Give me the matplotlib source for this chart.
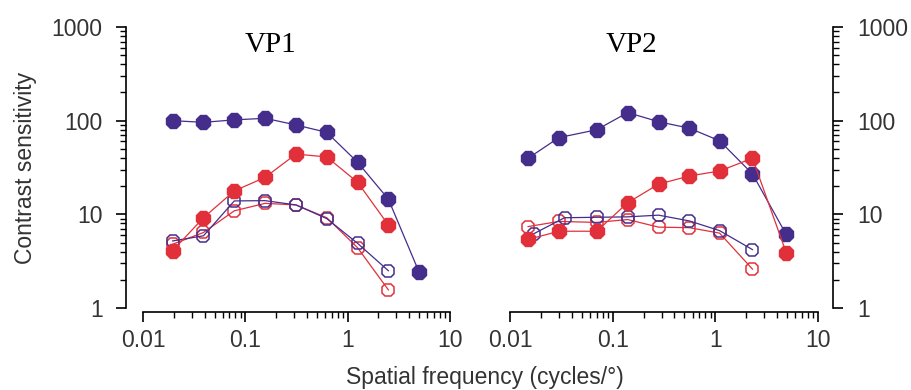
import matplotlib
matplotlib.use('Agg')
import matplotlib.pyplot as plt
from matplotlib.ticker import LogLocator, NullFormatter, FixedLocator, FixedFormatter

plt.rcParams['font.family'] = ['Liberation Sans', 'DejaVu Sans']

# VP1 data
f1 = [0.0195, 0.039, 0.078, 0.156, 0.3125, 0.625, 1.25, 2.5, 5.0]
vp1_blue_filled = [100, 96, 102, 106, 90, 75, 36, 14.5, 2.4]
vp1_red_filled = [4.1, 9.2, 17.8, 24.8, 44, 41, 22, 7.7]
vp1_blue_open = [5.2, 5.9, 13.9, 14, 12.6, 9.0, 4.9, 2.5]
vp1_red_open = [4.8, 6.4, 10.9, 13.1, 12.6, 9.2, 4.4, 1.56]

# VP2 data
f2 = [0.015, 0.03, 0.07, 0.14, 0.28, 0.56, 1.1, 2.3, 4.9]
f2_blue_open = [0.017, 0.034, 0.07, 0.14, 0.28, 0.56, 1.1, 2.3]
vp2_blue_filled = [39.7, 66, 80, 122, 97.5, 83, 61, 27, 6.1]
vp2_red_filled = [5.4, 6.6, 6.6, 13.3, 21, 25.7, 29, 39.7, 3.9]
vp2_blue_open = [6.2, 9.2, 9.3, 9.4, 9.8, 8.5, 6.7, 4.2]
vp2_red_open = [7.4, 8.4, 8.2, 8.8, 7.3, 7.2, 6.3, 2.6]

xticks = [0.01, 0.1, 1, 10]
xlabels = ['0.01', '0.1', '1', '10']
yticks = [1, 10, 100, 1000]
ylabels = ['1', '10', '100', '1000']

blue = '#452d8c'
red = '#e2303a'

W, H = 911, 390
fig = plt.figure(figsize=(W / 100, H / 100), dpi=100)
ax1 = fig.add_axes([143 / W, (H - 308) / H, 307 / W, 281 / H])
ax2 = fig.add_axes([510 / W, (H - 308) / H, 308 / W, 281 / H])


def curve(ax, x, y, color, filled):
    if filled:
        ax.plot(x, y, '-', color=color, lw=0.9, marker='8', ms=11,
                mfc=color, mec=color, mew=1, clip_on=False)
    else:
        ax.plot(x, y, '-', color=color, lw=0.9, marker='8', ms=10,
                mfc='none', mec=color, mew=1.1, clip_on=False)


curve(ax1, f1[:8], vp1_red_open, red, False)
curve(ax1, f1[:8], vp1_blue_open, blue, False)
curve(ax1, f1[:8], vp1_red_filled, red, True)
curve(ax1, f1, vp1_blue_filled, blue, True)

curve(ax2, f2[:8], vp2_red_open, red, False)
curve(ax2, f2_blue_open, vp2_blue_open, blue, False)
curve(ax2, f2, vp2_blue_filled, blue, True)
curve(ax2, f2, vp2_red_filled, red, True)

for ax in (ax1, ax2):
    ax.set_xscale('log')
    ax.set_yscale('log')
    ax.set_xlim(0.01, 10)
    ax.set_ylim(1, 1000)
    ax.spines['top'].set_visible(False)
    ax.xaxis.set_major_locator(FixedLocator(xticks))
    ax.xaxis.set_major_formatter(FixedFormatter(xlabels))
    ax.xaxis.set_minor_locator(LogLocator(base=10, subs=range(2, 10)))
    ax.xaxis.set_minor_formatter(NullFormatter())
    ax.yaxis.set_major_locator(FixedLocator(yticks))
    ax.yaxis.set_major_formatter(FixedFormatter(ylabels))
    ax.yaxis.set_minor_locator(LogLocator(base=10, subs=range(2, 10)))
    ax.yaxis.set_minor_formatter(NullFormatter())
    ax.spines['bottom'].set_position(('outward', 3))
    for s in ax.spines.values():
        s.set_linewidth(1.2)
    ax.tick_params(which='major', length=7, width=1.2, labelsize=16.5,
                   labelcolor='#333333')
    ax.tick_params(which='minor', length=4.5, width=1.0)
    ax.tick_params(axis='x', which='major', pad=5)
    ax.tick_params(axis='y', which='major', pad=10)

ax1.spines['right'].set_visible(False)
ax1.spines['left'].set_position(('outward', 12))
ax1.spines['left'].set_bounds(1, 1000)

ax2.spines['left'].set_visible(False)
ax2.spines['right'].set_position(('outward', 11))
ax2.yaxis.tick_right()

ax1.text(0.414, 0.936, 'VP1', transform=ax1.transAxes, ha='center', va='center',
         fontsize=21, family=['Liberation Serif', 'DejaVu Serif'])
ax2.text(0.396, 0.936, 'VP2', transform=ax2.transAxes, ha='center', va='center',
         fontsize=21, family=['Liberation Serif', 'DejaVu Serif'])

fig.text(485 / W, 1 - 366 / H, 'Spatial frequency (cycles/°)', ha='center', va='top',
         fontsize=16.5, color='#333333')
fig.text(26 / W, 1 - 168 / H, 'Contrast sensitivity', ha='center', va='center',
         rotation=90, fontsize=16.5, color='#333333')

fig.savefig('out.png', dpi=100)
